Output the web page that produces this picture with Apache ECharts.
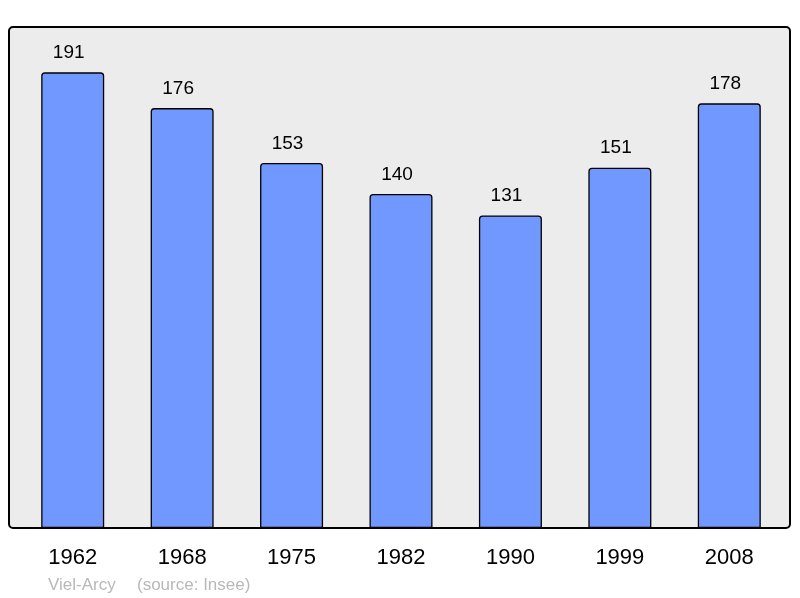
<!DOCTYPE html>
<html>
<head>
<meta charset="utf-8">
<script src="https://cdn.jsdelivr.net/npm/echarts@6/dist/echarts.min.js"></script>
<style>html,body{margin:0;padding:0;background:#fff;}#c{width:800px;height:598px;}</style>
</head>
<body>
<div id="c"></div>
<script>
const categories = ['1962','1968','1975','1982','1990','1999','2008'];
const population = [191,176,153,140,131,151,178];
const placeName = 'Viel-Arcy';
const sourceText = '(source: Insee)';

const chart = echarts.init(document.getElementById('c'), null, {renderer: 'canvas'});
chart.setOption({
  animation: false,
  backgroundColor: '#ffffff',
  graphic: [
    {type: 'rect', z: 0, shape: {x: 9, y: 27, width: 781, height: 501, r: 4},
     style: {fill: '#ececec', stroke: '#000', lineWidth: 2}},
    {type: 'text', left: 48, top: 577, style: {text: placeName, fill: '#b8b8b8', font: '17px "Liberation Sans", Arial, sans-serif'}},
    {type: 'text', left: 137, top: 577, style: {text: sourceText, fill: '#b8b8b8', font: '17px "Liberation Sans", Arial, sans-serif'}}
  ],
  grid: {left: 18, right: 16, top: 27, bottom: 70, containLabel: false},
  xAxis: {
    type: 'category', data: categories,
    axisLine: {show: false}, axisTick: {show: false},
    axisLabel: {color: '#000', fontSize: 22, fontFamily: '"Liberation Sans", Arial, sans-serif', margin: 19}
  },
  yAxis: {
    type: 'value', min: 0, max: 210,
    show: false, splitLine: {show: false}
  },
  series: [{
    type: 'bar', data: population, barWidth: 63, z: 2,
    itemStyle: {color: '#7098ff', borderColor: '#000', borderWidth: 1.3, borderRadius: [3,3,0,0]},
    label: {show: true, position: 'top', distance: 10, offset: [-4, 0], color: '#000', fontSize: 19,
            fontFamily: '"Liberation Sans", Arial, sans-serif'}
  }]
});
</script>
</body>
</html>
